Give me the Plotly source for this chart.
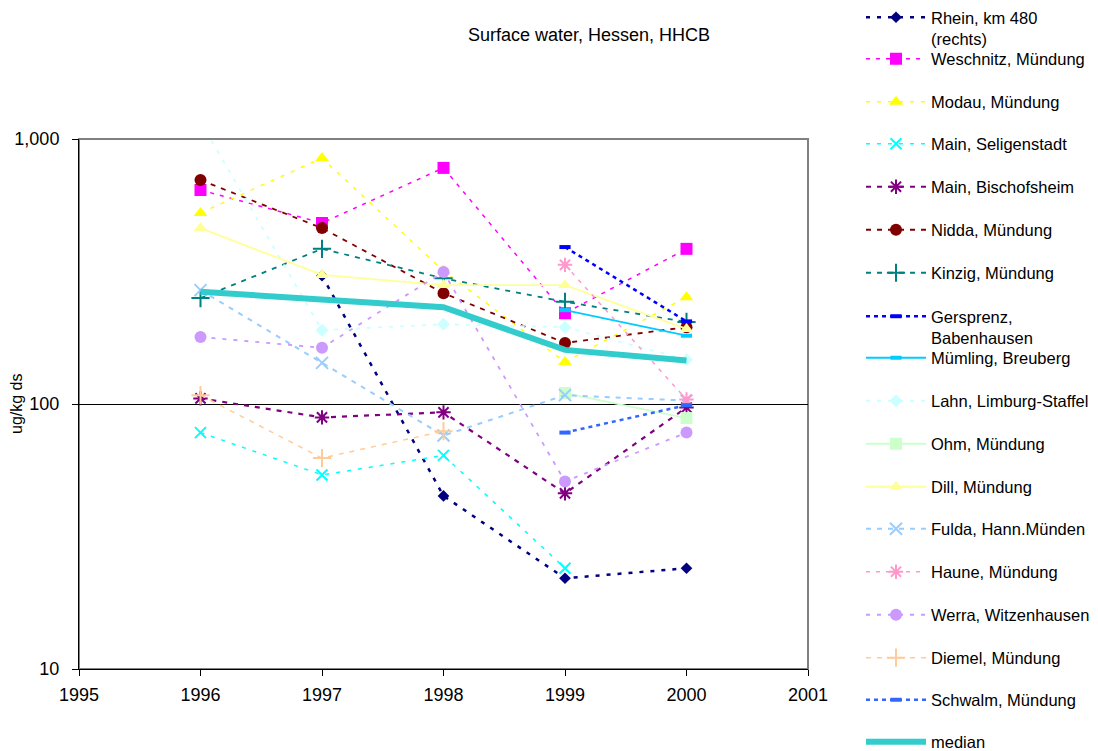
import plotly.graph_objects as go

years = [1996, 1997, 1998, 1999, 2000]

series_names = [
    "Rhein, km 480<br>(rechts)", "Weschnitz, Mündung", "Modau, Mündung",
    "Main, Seligenstadt", "Main, Bischofsheim", "Nidda, Mündung",
    "Kinzig, Mündung", "Gersprenz,<br>Babenhausen", "Mümling, Breuberg",
    "Lahn, Limburg-Staffel", "Ohm, Mündung", "Dill, Mündung",
    "Fulda, Hann.Münden", "Haune, Mündung", "Werra, Witzenhausen",
    "Diemel, Mündung", "Schwalm, Mündung", "median",
]

rhein = [None, 305, 45, 22, 24]
weschnitz = [642, 482, 778, 220, 385]
modau = [526, 847, 318, 144, 253]
main_seligenstadt = [78, 54, 64, 24, None]
main_bischofsheim = [105, 89, 93, 46, 97]
nidda = [700, 461, 262, 170, 195]
kinzig = [251, 385, 298, 243, 204]
gersprenz = [None, None, None, 391, 205]
muemling = [None, None, None, 226, 181]
lahn = [1160, 190, 200, 195, 147]
ohm = [None, None, None, 110, 88.5]
dill = [461, 307, 281, 281, 192]
fulda = [269, 143, 76, 108, 103]
haune = [None, None, None, 335, 104]
werra = [179, 163, 315, 51, 78]
diemel = [108, 62.5, 79, None, None]
schwalm = [None, None, None, 78, 99]
median = [265, 247, 232, 160, 146]

values = [rhein, weschnitz, modau, main_seligenstadt, main_bischofsheim, nidda,
          kinzig, gersprenz, muemling, lahn, ohm, dill, fulda, haune, werra,
          diemel, schwalm, median]

colors = ["#000080", "#FF00FF", "#FFFF00", "#00FFFF", "#800080", "#800000",
          "#008080", "#0000FF", "#00CCFF", "#CCFFFF", "#CCFFCC", "#FFFF99",
          "#99CCFF", "#FF99CC", "#CC99FF", "#FFCC99", "#3366FF", "#33CCCC"]

# (symbol, size, marker line width, line width, dash)
styles = [
    ("diamond", 9, 0, 2.5, "4px,7px"),
    ("square", 12, 0, 1.5, "4px,6px"),
    ("triangle-up", 12, 0, 1.5, "4px,7px"),
    ("x-thin-open", 11, 2, 1.5, "4px,7px"),
    ("asterisk-open", 12, 2, 2.2, "5px,6px"),
    ("circle", 12, 0, 1.8, "5px,6px"),
    ("cross-thin-open", 13, 2, 1.8, "5px,6px"),
    ("line-ew-open", 8, 4, 2.5, "4px,4px"),
    ("line-ew-open", 8, 4, 1.8, "solid"),
    ("diamond", 10, 0, 1.8, "4px,7px"),
    ("square", 12, 0, 1.8, "solid"),
    ("triangle-up", 12, 0, 1.8, "solid"),
    ("x-thin-open", 12, 2, 2, "5px,6px"),
    ("asterisk-open", 12, 2, 1.5, "4px,6px"),
    ("circle", 12, 0, 1.8, "4px,7px"),
    ("cross-thin-open", 13, 2, 1.5, "5px,6px"),
    ("line-ew-open", 8, 4, 2.5, "4px,4px"),
    (None, 0, 0, 6, "solid"),
]

# page-pixel rows of the legend entries
legend_rows = [16, 59, 102, 144, 187, 230, 273, 316, 358, 401, 444, 487, 529,
               572, 615, 658, 700, 742]

FONT = "Liberation Sans, Arial, sans-serif"
W, H = 1098, 751
PL, PR, PT, PB = 79, 808, 139, 669

fig = go.Figure()
layout_legends = {}
for i, (name, vals, col, st) in enumerate(zip(series_names, values, colors, styles)):
    sym, size, mlw, lw, dash = st
    lname = "legend" if i == 0 else f"legend{i + 1}"
    kw = dict(x=years, y=vals, name=name, legend=lname,
              line=dict(color=col, width=lw, dash=dash))
    if sym is None:
        kw["mode"] = "lines"
    else:
        kw["mode"] = "lines+markers"
        kw["marker"] = dict(symbol=sym, size=size, color=col,
                            line=dict(color=col, width=mlw))
    fig.add_trace(go.Scatter(**kw))
    two_line = "<br>" in name
    yc = legend_rows[i]
    layout_legends[lname] = dict(
        xref="container", yref="container",
        x=861 / W, xanchor="left",
        y=min(1.0, 1 - (yc - 17) / H) if two_line else 1 - yc / H,
        yanchor="top" if two_line else "middle",
        valign="top" if two_line else "middle",
        bgcolor="rgba(0,0,0,0)", borderwidth=0,
        font=dict(family=FONT, size=16.5, color="#000000"),
        itemwidth=60,
    )

fig.update_layout(
    width=W, height=H,
    margin=dict(l=PL, r=W - PR, t=PT, b=H - PB, autoexpand=False),
    paper_bgcolor="white", plot_bgcolor="white",
    font=dict(family=FONT, size=16, color="#000000"),
    title=dict(text="Surface water, Hessen, HHCB", x=589 / W,
               xanchor="center", y=1 - 35 / H, yanchor="middle",
               xref="container", yref="container",
               font=dict(family=FONT, size=18, color="#000000")),
    showlegend=True,
    **layout_legends,
)

fig.update_xaxes(
    range=[1995, 2001], dtick=1, tick0=1995, showgrid=False, zeroline=False,
    showline=True, linecolor="#000000", linewidth=1,
    ticks="outside", ticklen=6, tickcolor="#000000",
    tickfont=dict(family=FONT, size=18), ticklabelstandoff=3,
    automargin=False,
)
fig.update_yaxes(
    type="log", range=[1, 3], tickvals=[10, 100, 1000],
    ticktext=["10", "100", "1,000"],
    showgrid=True, gridcolor="#000000", gridwidth=1, zeroline=False,
    showline=True, linecolor="#000000", linewidth=1,
    ticks="outside", ticklen=6, tickcolor="#000000",
    tickfont=dict(family=FONT, size=18), ticklabelstandoff=9,
    automargin=False,
)

fig.add_annotation(text="ug/kg ds", textangle=-90, xref="paper", yref="paper",
                   x=(16 - PL) / (PR - PL), y=(PB - 404) / (PB - PT),
                   xanchor="center", yanchor="middle", showarrow=False,
                   font=dict(family=FONT, size=16, color="#000000"))

fig.add_shape(type="rect", xref="paper", yref="paper", x0=0, x1=1, y0=0, y1=1,
              line=dict(color="#808080", width=2), layer="below")

fig.write_html(
    "out.html",
    config={"displayModeBar": False},
    post_script="document.body.style.margin='0';document.body.style.overflow='hidden';",
)
